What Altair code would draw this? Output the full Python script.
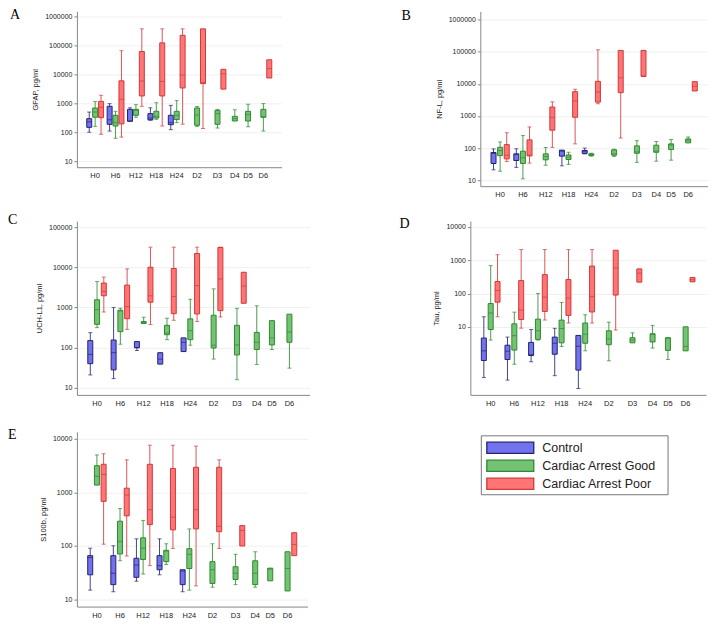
import altair as alt
import pandas as pd

TIMES = ["H0", "H6", "H12", "H18", "H24", "D2", "D3", "D4", "D5", "D6"]
# axis layout: where each time label sits on the x axis
TIME_POS = [0, 1, 2, 3, 4, 5, 6, 6.85, 7.5, 8.25]
GROUPS = ["Control", "Cardiac Arrest Good", "Cardiac Arrest Poor"]
GROUP_SHIFT = 0.29  # side-by-side offset of the three boxes within a time point
FILL = ["#7272ee", "#74c274", "#ff7474"]
STROKE = ["#24246e", "#2e8a2e", "#cf3a3a"]

# (min, q1, median, q3, max) per time point; None = no data
GFAP_CONTROL = [(100, 148, 230, 295, 500), (110, 188, 270, 790, 975), (240, 240, 245, 620, 700),
                (260, 270, 310, 440, 700), (123, 183, 215, 385, 850), None, None, None, None, None]
GFAP_GOOD = [(160, 330, 500, 690, 1150), (62, 165, 215, 385, 530), (330, 385, 570, 620, 900),
             (280, 310, 355, 530, 1050), (215, 275, 385, 530, 1240), (160, 175, 395, 690, 780),
             (140, 188, 440, 570, 620), (245, 245, 295, 355, 600), (155, 245, 410, 530, 930),
             (110, 330, 345, 620, 980)]
GFAP_POOR = [(85, 320, 730, 1170, 1900), (68, 195, 1380, 6000, 66000), (790, 1800, 5900, 62000, 375000),
             (165, 1800, 5700, 123000, 375000), (190, 3400, 9500, 225000, 375000),
             (135, 4800, 5200, 375000, 375000), (3100, 3100, 10500, 15000, 15000), None, None,
             (7500, 7500, 16000, 32000, 32000)]

NFL_CONTROL = [(21, 33, 68, 73, 94), (25, 41, 64, 66, 95), None, (28, 56, 80, 86, 86),
               (66, 68, 80, 84, 100), None, None, None, None, None]
NFL_GOOD = [(19, 58, 84, 106, 155), (11, 33, 50, 80, 245), (29, 43, 55, 66, 104), (31, 44, 52, 61, 74),
            (56, 59, 62, 66, 69), (55, 60, 66, 88, 92), (36, 69, 76, 117, 170), (39, 74, 80, 123, 160),
            (42, 90, 125, 135, 185), (145, 145, 170, 193, 222)]
NFL_POOR = [(38, 46, 60, 128, 300), (34, 57, 60, 180, 455), (105, 360, 890, 1900, 2750),
            (135, 910, 2950, 5700, 6800), (2400, 2700, 5600, 12000, 115000),
            (205, 5300, 15500, 110000, 110000), (17000, 17000, 17500, 110000, 110000), None, None,
            (6000, 6000, 8400, 11700, 11700)]

UCHL1_CONTROL = [(21, 40, 68, 150, 236), (17, 28, 75, 155, 1000), (85, 100, 100, 142, 142),
                 (39, 39, 52, 75, 75), (80, 80, 136, 175, 175), None, None, None, None, None]
UCHL1_GOOD = [(315, 380, 880, 1550, 4400), (122, 250, 820, 850, 950), (400, 400, 420, 445, 570),
              (158, 210, 230, 360, 540), (115, 158, 265, 520, 1600), (52, 98, 115, 640, 2900),
              (16, 66, 117, 360, 950), (38, 90, 136, 240, 1100), (90, 117, 175, 470, 470),
              (31, 136, 245, 680, 680)]
UCHL1_POOR = [(770, 1950, 2500, 4050, 5700), (285, 525, 1050, 3600, 9100), (375, 1350, 1950, 10000, 31600),
              (480, 700, 1870, 9300, 31600), (445, 690, 3500, 22000, 31600), (580, 830, 5100, 31000, 31600),
              (1270, 1270, 3400, 7500, 7500), None, None, None]

TAU_CONTROL = [(0.30, 0.97, 1.9, 4.6, 20), (0.25, 1.04, 1.85, 2.8, 4.9), (0.89, 1.37, 1.45, 3.4, 8.3),
               (0.34, 1.5, 3.2, 4.9, 9.0), (0.14, 0.5, 2.6, 5.5, 5.5), None, None, None, None, None]
TAU_GOOD = [(4.0, 8.3, 26, 50, 690), (0.75, 2.0, 5.4, 12.3, 27.6), (4.0, 4.2, 7.6, 17, 100),
            (2.56, 3.3, 8.9, 15.9, 54), (1.9, 3.2, 6.0, 13, 23), (0.95, 2.9, 4.3, 7.6, 13.8),
            (3.3, 3.3, 4.0, 4.7, 6.6), (2.3, 3.5, 5.9, 6.2, 11), (1.04, 1.95, 4.5, 4.7, 4.7),
            (1.9, 1.9, 2.6, 10, 10)]
TAU_POOR = [(20, 55, 124, 230, 1470), (9.1, 16.6, 32, 245, 2100), (16, 29, 78, 370, 2100),
            (13, 22, 73, 265, 2100), (13, 28, 81, 670, 2100), (8, 90, 580, 2000, 2000),
            (220, 220, 410, 550, 550), None, None, (225, 225, 260, 305, 305)]

S100B_CONTROL = [(15, 29, 61, 66, 91), (14, 19, 31, 66, 101), (22, 26, 44, 59, 136),
                 (29, 36, 43, 66, 136), (14, 19, 34, 36, 36), None, None, None, None, None]
S100B_GOOD = [(1370, 1370, 2000, 3150, 5000), (53, 71, 122, 290, 500), (30, 56, 91, 142, 300),
              (45, 51, 80, 83, 110), (15, 38, 70, 89, 208), (17, 20, 36, 51, 110),
              (19, 23.7, 31, 41, 70), (17, 19, 31, 53, 78), (22.4, 22.4, 37, 38.6, 38.6),
              (14.5, 14.5, 38, 78, 78)]
S100B_POOR = [(108, 680, 2170, 3350, 5260), (65, 365, 890, 1200, 4050), (43, 250, 475, 3350, 7600),
              (90, 200, 345, 2800, 7600), (18, 208, 475, 2950, 7300), (90, 185, 233, 2950, 4050),
              (100, 100, 195, 240, 240), None, None, (66, 66, 107, 177, 177)]

FONT = "Liberation Sans"


def frame(series):
    rows = []
    for gi, (g, vals) in enumerate(zip(GROUPS, series)):
        for ti, (t, v) in enumerate(zip(TIMES, vals)):
            if v is None:
                continue
            lo, q1, med, q3, hi = v
            rows.append(dict(time=t, group=g, pos=TIME_POS[ti] + (gi - 1) * GROUP_SHIFT,
                             lo=lo, q1=q1, med=med, q3=q3, hi=hi))
    return pd.DataFrame(rows)


def col_enc():
    return alt.Color("group:N", scale=alt.Scale(domain=GROUPS, range=STROKE), legend=None)


def fill_enc():
    return alt.Fill("group:N", scale=alt.Scale(domain=GROUPS, range=FILL), legend=None)


def stroke_enc():
    return alt.Stroke("group:N", scale=alt.Scale(domain=GROUPS, range=STROKE), legend=None)


def panel(letter, ytitle, series, domain, ticks, width, height, lx, ly):
    df = frame(series)
    base = alt.Chart(df)
    X = alt.X("pos:Q", scale=alt.Scale(domain=[-0.65, 8.9], nice=False, zero=False),
              axis=alt.Axis(title=None, labels=False, ticks=False, domainColor="#888", grid=False))
    ysc = alt.Scale(type="log", domain=domain, nice=False)
    yax = alt.Axis(title=ytitle, values=ticks, format="d", labelFontSize=7, labelFont=FONT,
                   labelColor="#222", tickSize=3, tickColor="#888", domainColor="#888",
                   titleFontSize=7.5, titleFont=FONT, titleFontWeight="normal", titleColor="#222",
                   grid=True, gridColor="#f0f0f0", titlePadding=5)

    whisk = base.mark_rule(strokeWidth=1, opacity=0.85).encode(
        x=X, y=alt.Y("lo:Q", scale=ysc, axis=yax), y2="hi:Q", color=col_enc())
    box = base.mark_bar(size=5, strokeWidth=1).encode(
        x="pos:Q", y=alt.Y("q1:Q", scale=ysc), y2="q3:Q", fill=fill_enc(), stroke=stroke_enc())
    med = base.mark_tick(size=5, thickness=1, orient="horizontal").encode(
        x="pos:Q", y=alt.Y("med:Q", scale=ysc), color=col_enc())
    caplo = base.transform_filter("datum.lo < datum.q1").mark_tick(
        size=4, thickness=1, orient="horizontal").encode(
        x="pos:Q", y=alt.Y("lo:Q", scale=ysc), color=col_enc())
    caphi = base.transform_filter("datum.hi > datum.q3").mark_tick(
        size=4, thickness=1, orient="horizontal").encode(
        x="pos:Q", y=alt.Y("hi:Q", scale=ysc), color=col_enc())
    # time labels under the x axis, placed through the x scale
    xlab = alt.Chart(pd.DataFrame({"t": TIMES, "pos": TIME_POS})).mark_text(
        fontSize=7.5, font=FONT, color="#222", baseline="top", align="center"
    ).encode(x="pos:Q", y=alt.value(height + 5), text="t:N")
    lab = alt.Chart(pd.DataFrame({"t": [letter]})).mark_text(
        text=letter, font="Liberation Serif", fontSize=14, align="left",
        baseline="alphabetic", color="black").encode(x=alt.value(lx), y=alt.value(ly))
    return alt.layer(whisk, box, med, caplo, caphi, xlab, lab).properties(width=width, height=height)


A = panel("A", "GFAP, pg/ml", [GFAP_CONTROL, GFAP_GOOD, GFAP_POOR], [6.2, 1.5e6],
          [10, 100, 1000, 10000, 100000, 1000000], 205, 156, -67, 8)
B = panel("B", "NF-L, pg/ml", [NFL_CONTROL, NFL_GOOD, NFL_POOR], [6.5, 1.8e6],
          [10, 100, 1000, 10000, 100000, 1000000], 228, 175, -79, 9)
C = panel("C", "UCH-L1, pg/ml", [UCHL1_CONTROL, UCHL1_GOOD, UCHL1_POOR], [6.7, 1.4e5],
          [10, 100, 1000, 10000, 100000], 233, 174, -69, 3)
D = panel("D", "Tau, pg/ml", [TAU_CONTROL, TAU_GOOD, TAU_POOR], [0.09, 1.5e4],
          [10, 100, 1000, 10000], 236, 174, -71, 7)
E = panel("E", "S100b, pg/ml", [S100B_CONTROL, S100B_GOOD, S100B_POOR], [7.4, 1.35e4],
          [10, 100, 1000, 10000], 231, 175, -69, 7)

# legend panel, drawn from the group list through the shared fill/stroke scales
leg_df = pd.DataFrame({"group": GROUPS})
LY = alt.Y("group:N", scale=alt.Scale(type="point", domain=GROUPS, range=[16, 52], padding=0),
           axis=None)
legend_frame = alt.Chart(pd.DataFrame({"k": [0]})).mark_rect(
    fillOpacity=0, stroke="#777", strokeWidth=1
).encode(x=alt.value(0), x2=alt.value(187), y=alt.value(4), y2=alt.value(63))
swatch = alt.Chart(leg_df).mark_point(
    shape="M-1,-0.24H1V0.24H-1Z", size=2209, filled=True, opacity=1, strokeWidth=1.3
).encode(x=alt.value(29), y=LY, fill=fill_enc(), stroke=stroke_enc())
names = alt.Chart(leg_df).mark_text(
    align="left", baseline="middle", fontSize=12.5, font=FONT, color="#222"
).encode(x=alt.value(61), y=LY, text="group:N")
legend = alt.layer(legend_frame, swatch, names).properties(width=187, height=63)

chart = alt.vconcat(
    alt.vconcat(
        alt.hconcat(A, B, spacing=120),
        alt.hconcat(C, D, spacing=90),
        spacing=14,
    ),
    alt.hconcat(E, legend, spacing=173),
    spacing=20,
).properties(padding=0, background="white").configure_view(stroke=None)

chart.save("out.html", embed_options={"renderer": "svg", "actions": False})
